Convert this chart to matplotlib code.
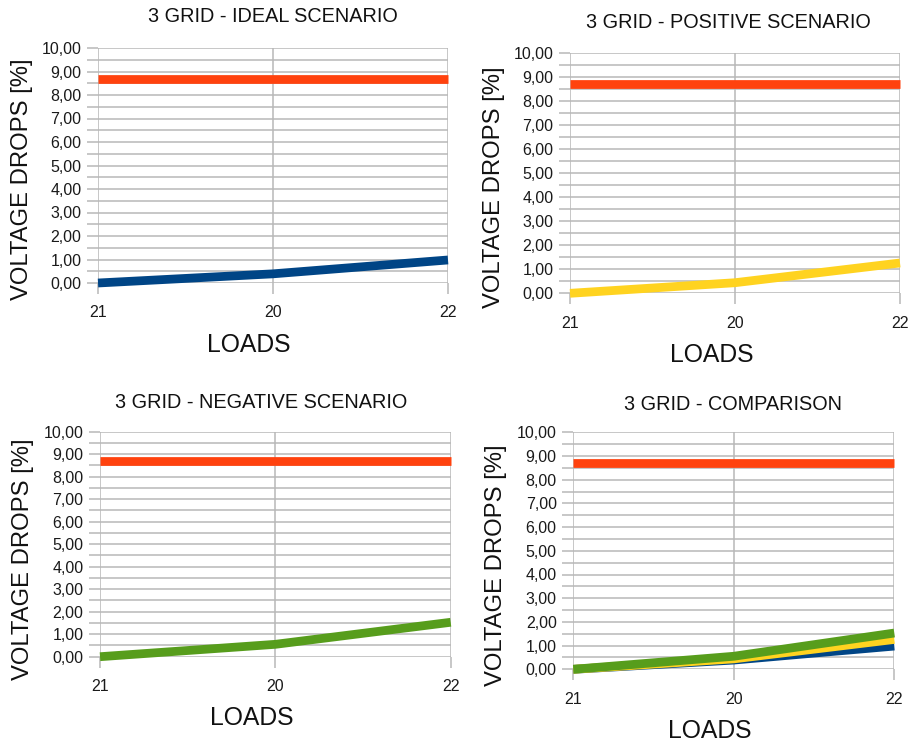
import matplotlib
matplotlib.use("Agg")
import matplotlib.pyplot as plt
from matplotlib.ticker import MultipleLocator, FuncFormatter

plt.rcParams['font.family'] = ['Liberation Sans', 'DejaVu Sans']

# Data
loads = ["21", "20", "22"]
limit = [8.7, 8.7, 8.7]
ideal = [0.0, 0.39, 0.98]
positive = [0.0, 0.44, 1.26]
negative = [0.0, 0.55, 1.53]

C_LIMIT = "#FF420E"
C_IDEAL = "#004586"
C_POS = "#FFD320"
C_NEG = "#579D1C"
GRID = "#b8b8b8"

W, H = 910, 744
fig = plt.figure(figsize=(W / 100, H / 100), dpi=100)


def px_axes(x0, x1, ytop, ybot):
    return fig.add_axes([x0 / W, 1 - ybot / H, (x1 - x0) / W, (ybot - ytop) / H])


def style(ax, title, tpos, ylpos, xlpos):
    ax.set_xlim(0, len(loads) - 1)
    ax.set_ylim(0, 10)
    ax.set_xticks(range(len(loads)))
    ax.set_xticklabels(loads)
    ax.yaxis.set_major_locator(MultipleLocator(1))
    ax.yaxis.set_minor_locator(MultipleLocator(0.5))
    ax.yaxis.set_major_formatter(FuncFormatter(lambda v, p: f"{v:.2f}".replace(".", ",")))
    for s in ax.spines.values():
        s.set_visible(False)
    ax.grid(True, which="both", color=GRID, lw=1.1)
    ax.set_axisbelow(True)
    ax.tick_params(axis="y", which="both", length=8, width=1.1, color=GRID,
                   labelsize=11.5, pad=4, labelcolor="#1a1a1a")
    ax.tick_params(axis="x", which="major", length=8, width=1.1, color=GRID,
                   labelsize=11.5, pad=8, labelcolor="#1a1a1a")
    fig.text(tpos[0] / W, 1 - tpos[1] / H, title, ha="center", va="center",
             fontsize=14.3, color="#111111")
    fig.text(ylpos[0] / W, 1 - ylpos[1] / H, "VOLTAGE DROPS [%]", ha="center",
             va="center", rotation=90, fontsize=17.2, color="#111111")
    fig.text(xlpos[0] / W, 1 - xlpos[1] / H, "LOADS", ha="center", va="center",
             fontsize=17.8, color="#111111")


def line(ax, vals, color):
    ax.plot(range(len(loads)), vals, color=color, lw=6.3,
            solid_capstyle="butt", solid_joinstyle="round", clip_on=False)


ax1 = px_axes(98, 448, 48, 283)
line(ax1, limit, C_LIMIT)
line(ax1, ideal, C_IDEAL)
style(ax1, "3 GRID - IDEAL SCENARIO", (273, 17), (22, 179), (249, 345))

ax2 = px_axes(570, 900, 52.7, 293.3)
line(ax2, limit, C_LIMIT)
line(ax2, positive, C_POS)
style(ax2, "3 GRID - POSITIVE SCENARIO", (728, 22), (494, 187), (712, 355))

ax3 = px_axes(100, 450.7, 431.7, 656.7)
line(ax3, limit, C_LIMIT)
line(ax3, negative, C_NEG)
style(ax3, "3 GRID - NEGATIVE SCENARIO", (261, 402), (23, 559), (252, 718))

ax4 = px_axes(573.3, 894.3, 432.3, 669.3)
line(ax4, limit, C_LIMIT)
line(ax4, ideal, C_IDEAL)
line(ax4, positive, C_POS)
line(ax4, negative, C_NEG)
style(ax4, "3 GRID - COMPARISON", (733, 404), (496, 565), (710, 731))

fig.savefig("out.png", dpi=100, facecolor="white")
